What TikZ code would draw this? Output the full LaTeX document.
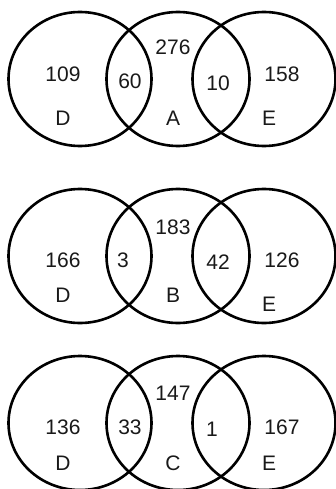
\documentclass[tikz,border=0pt]{standalone}
\usepackage{fontspec}
\setmainfont{Liberation Sans}
\usetikzlibrary{shapes.geometric}
\begin{document}
\begin{tikzpicture}[x=1pt,y=-1pt,
  setring/.style={ellipse,draw=black,line width=2.6pt,minimum width=143pt,minimum height=134pt,inner sep=0pt},
  num/.style={font=\fontsize{21}{21}\selectfont,inner sep=0pt,text=black!90}]
\useasboundingbox (0,0) rectangle (335,489);
% Row 1
\node[setring] (D1) at (80,79) {};
\node[setring] (A1) at (178,79) {};
\node[setring] (E1) at (264,79) {};
\node[num] (d1n) at (63,74) {109};
\node[num] (d1l) at (63,118) {D};
\node[num] (da1) at (130,81) {60};
\node[num] (a1n) at (173,47) {276};
\node[num] (a1l) at (173,118) {A};
\node[num] (ae1) at (218,83) {10};
\node[num] (e1n) at (282,74) {158};
\node[num] (e1l) at (269,118) {E};
% Row 2
\node[setring] (D2) at (80,256) {};
\node[setring] (B2) at (178,256) {};
\node[setring] (E2) at (264,256) {};
\node[num] (d2n) at (63,260) {166};
\node[num] (d2l) at (63,295) {D};
\node[num] (db2) at (123,260) {3};
\node[num] (b2n) at (173,227) {183};
\node[num] (b2l) at (173,295) {B};
\node[num] (be2) at (218,262) {42};
\node[num] (e2n) at (282,260) {126};
\node[num] (e2l) at (269,304) {E};
% Row 3
\node[setring] (D3) at (80,423) {};
\node[setring] (C3) at (178,423) {};
\node[setring] (E3) at (264,423) {};
\node[num] (d3n) at (63,427) {136};
\node[num] (d3l) at (63,463) {D};
\node[num] (dc3) at (130,427) {33};
\node[num] (c3n) at (173,393) {147};
\node[num] (c3l) at (173,463) {C};
\node[num] (ce3) at (212,429) {1};
\node[num] (e3n) at (282,427) {167};
\node[num] (e3l) at (269,463) {E};
\end{tikzpicture}
\end{document}
